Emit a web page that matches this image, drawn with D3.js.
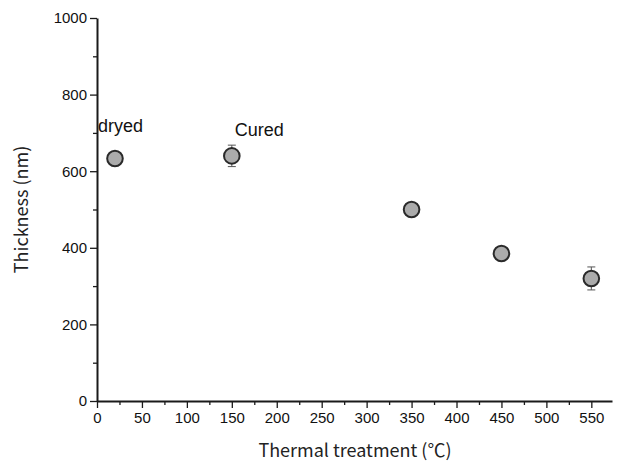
<!DOCTYPE html>
<html>
<head>
<meta charset="utf-8">
<script src="https://cdn.jsdelivr.net/npm/d3@7"></script>
<style>
  body { margin: 0; background: #fff; }
  svg { display: block; }
</style>
</head>
<body>
<div id="chart"></div>
<script>
// ── Data ──
const temps = [20, 150, 350, 450, 550];
const thickness = [633, 640, 500, 385, 320];
const errors = [18, 28, 8, 12, 30];
const labels = [
    { text: 'dryed', t: 20, v: 633 },
    { text: 'Cured', t: 150, v: 640 }
];
const xTicks = [0, 50, 100, 150, 200, 250, 300, 350, 400, 450, 500, 550];
const yTicks = [0, 200, 400, 600, 800, 1000];

const width = 619, height = 463;
const margin = { top: 18, right: 7, bottom: 62, left: 97 };
const innerW = width - margin.left - margin.right;
const innerH = height - margin.top - margin.bottom;

const svg = d3.select('#chart').append('svg')
    .attr('width', width)
    .attr('height', height);

const g = svg.append('g')
    .attr('transform', `translate(${margin.left},${margin.top})`);

const x = d3.scaleLinear().domain([0, 573]).range([0, innerW]);
const y = d3.scaleLinear().domain([0, 1000]).range([innerH, 0]);

const tickFont = "'Liberation Sans', Arial, sans-serif";
const titleFont = "'Noto Sans CJK KR', 'Noto Sans', sans-serif";
const ink = '#1a1a1a';

// minor ticks
g.append('g')
    .attr('transform', `translate(0,${innerH})`)
    .call(d3.axisBottom(x).tickValues(d3.range(25, 575, 50)).tickSize(4).tickFormat(''))
    .call(a => a.select('.domain').remove())
    .selectAll('line').attr('stroke', ink).attr('stroke-width', 1.3);
g.append('g')
    .call(d3.axisLeft(y).tickValues(d3.range(100, 1000, 200)).tickSize(4).tickFormat(''))
    .call(a => a.select('.domain').remove())
    .selectAll('line').attr('stroke', ink).attr('stroke-width', 1.3);

// major axes
const xAxis = g.append('g')
    .attr('transform', `translate(0,${innerH})`)
    .call(d3.axisBottom(x).tickValues(xTicks).tickFormat(d3.format('d'))
        .tickSize(7).tickSizeOuter(0).tickPadding(4));
const yAxis = g.append('g')
    .call(d3.axisLeft(y).tickValues(yTicks).tickFormat(d3.format('d'))
        .tickSize(7).tickSizeOuter(0).tickPadding(3));

[xAxis, yAxis].forEach(a => {
    a.attr('font-family', tickFont).attr('font-size', 15);
    a.select('.domain').attr('stroke', ink).attr('stroke-width', 2);
    a.selectAll('.tick line').attr('stroke', ink).attr('stroke-width', 1.3);
    a.selectAll('.tick text').attr('fill', '#111');
});

// error bars
const eb = g.append('g');
temps.forEach((t, i) => {
    const cx = x(t);
    const y1 = y(thickness[i] + errors[i]);
    const y2 = y(thickness[i] - errors[i]);
    eb.append('line').attr('x1', cx).attr('x2', cx).attr('y1', y1).attr('y2', y2)
        .attr('stroke', '#555').attr('stroke-width', 1);
    [y1, y2].forEach(yy => eb.append('line')
        .attr('x1', cx - 4).attr('x2', cx + 4).attr('y1', yy).attr('y2', yy)
        .attr('stroke', '#555').attr('stroke-width', 1));
});

// points
g.append('g')
    .selectAll('circle')
    .data(temps)
    .join('circle')
    .attr('cx', d => x(d))
    .attr('cy', (d, i) => y(thickness[i]))
    .attr('r', 7.8)
    .attr('fill', '#ababab')
    .attr('stroke', '#2a2a2a')
    .attr('stroke-width', 2);

// annotations
g.selectAll('.anno')
    .data(labels)
    .join('text')
    .attr('class', 'anno')
    .attr('x', d => x(d.t) + (d.t < 50 ? -17 : 3))
    .attr('y', d => y(d.v) - (d.t < 50 ? 27 : 20))
    .attr('font-family', tickFont)
    .attr('font-size', '18px')
    .attr('fill', '#111')
    .text(d => d.text);

// axis titles
svg.append('text')
    .attr('x', margin.left + x(287))
    .attr('y', 457)
    .attr('text-anchor', 'middle')
    .attr('font-family', titleFont)
    .attr('font-size', '18px')
    .attr('fill', '#222')
    .text('Thermal treatment (℃)');

svg.append('text')
    .attr('transform', `translate(28,${margin.top + y(500)}) rotate(-90)`)
    .attr('text-anchor', 'middle')
    .attr('font-family', titleFont)
    .attr('font-size', '18px')
    .attr('fill', '#222')
    .text('Thickness (nm)');
</script>
</body>
</html>
